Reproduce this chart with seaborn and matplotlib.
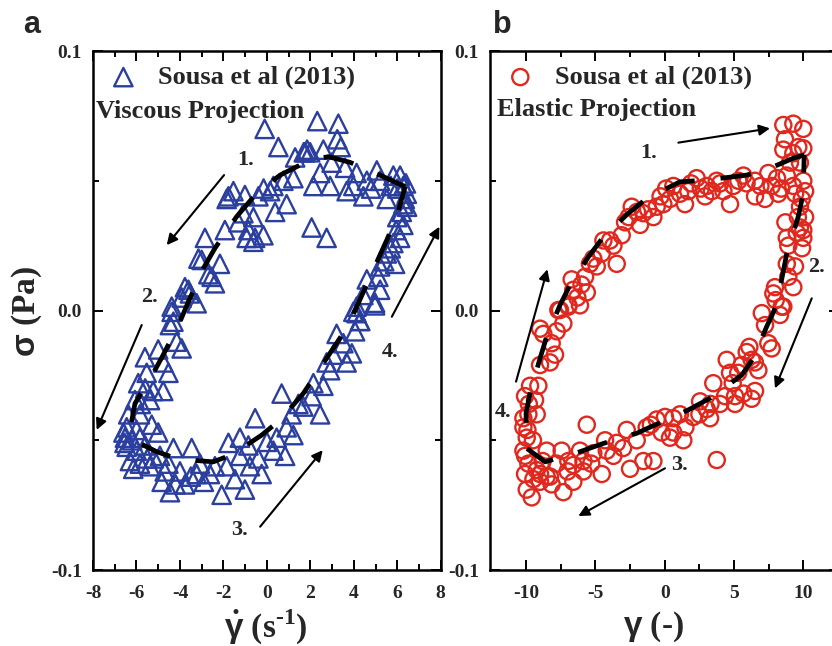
import matplotlib
matplotlib.use("Agg")
import matplotlib.pyplot as plt
import seaborn as sns
import pandas as pd

# ---------------- data: panel a (viscous projection) ----------------
shear_rate = [
    -0.10, 2.32, 3.29, 3.24, 3.40, 0.53, 1.30, 1.76, 1.99, 2.60, 2.98, 2.45, 2.14, 2.91, 1.22, 0.76,
    3.60, 4.13, 3.98, 4.44, 3.67, 5.06, 5.21, 5.82, 6.13, 6.28, 6.44, 6.28, 5.52, 6.21, 6.28, 6.13,
    5.82, 5.52, 5.90, 5.21, 5.13, 4.60, 5.21, 4.44, 4.98, 4.13, 3.98, 4.29,
    6.40, 6.35, 6.00, 5.70, 6.45, 4.80, 4.60, 1.70, 1.85, 6.00, 5.95, 5.70, 5.40,
    2.06, 2.75, 0.91, 0.38, 0.15, -0.39, -1.01, -1.54, -1.85, -1.08, -0.62, -1.93, -1.31, -0.93,
    -0.16, -0.62, -2.85, -3.00, -2.16, -2.69, -2.39, -3.77, -3.54, -3.23, -4.38, -4.30, -1.77,
    -3.15, -2.54, -3.61, -3.92, -4.38, -0.85, -0.54, -0.15, 0.30,
    -4.46, -4.15, -3.92, -5.61, -5.00, -4.77, -4.53, -5.53, -5.92, -5.23, -4.77, -6.07, -5.38,
    -6.38, -5.84, -5.30, -6.45, -6.53, -5.84, -6.45, -5.99, -6.30, -5.84, -6.15, -5.38, -4.92,
    -4.30, -3.46, -4.53, -4.00, -4.84, -4.46, -3.77, -3.23, -2.62, -3.08, -2.08, -1.01, -1.47,
    -1.85, -2.39, -1.77, -1.24, -0.85, -0.39, -0.24, -0.54, 0.00, 0.30, 0.45, 0.84, 0.91, 1.22,
    1.14, 0.68, 1.45, 1.68, 2.45, 2.06, 2.60, 2.14, 2.91, 2.75, 3.67, 3.06, 3.91, 3.21, 3.52,
    4.06, 4.29, 4.98, 4.13, -1.24, -0.78,
    -6.60, -6.55, -6.20, -5.60, -5.20, -4.70, -3.50, -2.90, -5.00, -5.50, -6.00, -5.80, -5.60, -4.20,
]
stress_a = [
    0.070, 0.073, 0.072, 0.066, 0.063, 0.063, 0.059, 0.061, 0.061, 0.062, 0.057, 0.053, 0.048, 0.048, 0.051, 0.050,
    0.055, 0.053, 0.048, 0.044, 0.046, 0.054, 0.050, 0.052, 0.052, 0.048, 0.045, 0.041, 0.043, 0.038, 0.033, 0.028,
    0.026, 0.022, 0.018, 0.017, 0.013, 0.012, 0.008, 0.006, 0.003, 0.0015, -0.0005, -0.004,
    0.049, 0.043, 0.047, 0.048, 0.040, 0.047, 0.050, 0.061, 0.062, 0.036, 0.031, 0.024, 0.019,
    0.032, 0.028, 0.041, 0.038, 0.046, 0.044, 0.0445, 0.046, 0.043, 0.0375, 0.036, 0.031, 0.034, 0.028,
    0.029, 0.0265, 0.028, 0.0195, 0.018, 0.014, 0.0105, 0.009, 0.0066, 0.0028, -0.0005, -0.0043, 0.044,
    0.020, 0.013, 0.008, 0.005, 0.0015, 0.031, 0.028, 0.047, 0.048,
    -0.0056, -0.012, -0.0146, -0.018, -0.015, -0.020, -0.024, -0.024, -0.028, -0.031, -0.031, -0.0345, -0.0345,
    -0.040, -0.040, -0.044, -0.045, -0.049, -0.049, -0.0525, -0.054, -0.058, -0.059, -0.061, -0.060, -0.056,
    -0.053, -0.053, -0.059, -0.062, -0.066, -0.070, -0.067, -0.063, -0.063, -0.059, -0.071, -0.069, -0.065,
    -0.060, -0.060, -0.051, -0.049, -0.052, -0.057, -0.063, -0.0415, -0.0506, -0.054, -0.049, -0.056, -0.045, -0.048,
    -0.040, -0.032, -0.036, -0.037, -0.040, -0.033, -0.029, -0.028, -0.023, -0.020, -0.020, -0.017, -0.0165, -0.009, -0.0126,
    -0.008, -0.004, 0.002, -0.001, -0.056, -0.060,
    -0.047, -0.051, -0.050, -0.052, -0.057, -0.062, -0.064, -0.066, -0.047, -0.057, -0.046, -0.036, -0.030, -0.067,
]
fit_a_x = [6.36, 5.36, 3.83, 2.83, 1.99, 1.37, 0.61, -0.47, -1.39, -2.39, -2.92, -3.61, -4.00, -4.77,
           -5.23, -6.07, -6.27, -5.84, -5.07, -4.07, -2.46, -1.54, -0.24, 0.61, 1.68, 2.29, 3.21, 3.75,
           4.21, 4.75, 5.52, 5.98, 6.36]
fit_a_y = [0.0477, 0.0516, 0.0571, 0.0593, 0.0580, 0.0554, 0.0522, 0.0452, 0.0362, 0.0240, 0.0163, 0.0034,
           -0.0043, -0.0171, -0.0242, -0.0358, -0.0448, -0.0512, -0.0544, -0.0573, -0.0583, -0.0553, -0.0480,
           -0.0422, -0.0319, -0.0242, -0.0126, -0.0056, 0.0028, 0.0130, 0.0272, 0.0362, 0.0477]

# ---------------- data: panel b (elastic projection) ----------------
strain = [
    8.55, 9.27, 9.99, 8.67, 9.63, 9.99, 8.55, 9.27, 9.03, 9.75, 8.80, 9.99, 9.27, 10.12, 8.19, 9.88, 9.75,
    10.12, 9.75, 9.52, 9.99, 8.80, 9.99, 8.91, 8.80, 9.39, 8.91, 9.27, 7.95, 7.83, 8.55, 8.31, 7.00, 8.43,
    7.23, 7.47, 7.71,
    5.91, 6.27, 4.47, 5.55, 4.71, 6.75, 3.50, 4.35, 5.07, 5.67, 6.51, 6.27, 5.07, 3.99, 2.55, 3.03, 3.27,
    2.06, 1.10, 0.62, 0.02, -0.58, -1.30, -0.22, 0.62, 1.49, 1.34, 0.38, -2.74, -2.02, -3.46, -4.30, -5.62,
    -6.11, -5.15, -4.18, -3.70, -4.54, -5.86, -6.59, -5.86, -6.59, -7.43, -8.51, -7.79, -6.95, -7.31, -8.15,
    -8.51, -8.99, -9.47, -10.07, -9.95, -9.59, -8.99, -8.27, -10.07, -9.83, -9.23, -10.19, -9.95, -10.19,
    -10.19, -9.83, -9.23, -10.07, -9.71, -9.11, -9.35, -8.99, -8.27, -7.91, -8.15, -8.75, -7.79, -7.31,
    -7.55, -6.95, -6.11, -8.99, 3.75, -0.82, -1.54, -2.50,
    -7.67, -6.95, -6.59, -5.62, -6.71, -5.74, -5.39, -5.15, -4.54, -4.42, -3.70, -3.46, -3.94, -3.10, -2.86,
    -2.38, -1.78, -1.54, -0.82, -0.58, -0.10, 0.38, 0.62, 1.10, 1.46, 1.70, 2.30, 2.91, 3.03, 3.75, 4.23,
    4.71, 4.95, 5.31, 5.67, 6.51, 6.51, 7.23, 7.47, 7.71, -6.30, -6.00, -4.90, -2.60, -2.00, -1.20, -0.30,
    0.10, 1.90, 2.60, 3.40, 4.00, 5.90, 6.90, 8.10, 8.40,
    -9.50, -9.80, -9.90, -8.80, -7.00, -5.30, -3.00, -1.00, 2.50, 3.30, 4.90, 5.30, 6.10, 6.50, 8.00, 9.60,
    9.90, 8.70, 9.40,
]
stress_b = [
    0.0715, 0.072, 0.070, 0.066, 0.063, 0.0625, 0.062, 0.0606, 0.057, 0.057, 0.052, 0.050, 0.048, 0.046, 0.045, 0.043, 0.040,
    0.036, 0.032, 0.030, 0.028, 0.028, 0.031, 0.025, 0.018, 0.017, 0.013, 0.009, 0.009, 0.0066, 0.0015, -0.0017, -0.001, 0.0015,
    -0.0056, -0.0126, -0.0146,
    -0.016, -0.019, -0.019, -0.021, -0.024, -0.023, -0.028, -0.033, -0.033, -0.032, -0.031, -0.034, -0.036, -0.036, -0.035, -0.038, -0.0415,
    -0.041, -0.040, -0.0415, -0.041, -0.042, -0.045, -0.047, -0.047, -0.045, -0.050, -0.049, -0.046, -0.050, -0.051, -0.050, -0.044,
    -0.054, -0.055, -0.054, -0.056, -0.063, -0.058, -0.0595, -0.062, -0.066, -0.054, -0.054, -0.059, -0.058, -0.070, -0.067,
    -0.064, -0.063, -0.065, -0.063, -0.069, -0.072, -0.066, -0.064, -0.056, -0.059, -0.0615, -0.054, -0.049, -0.045,
    -0.0415, -0.040, -0.040, -0.033, -0.029, -0.029, -0.0345, -0.021, -0.020, -0.017, -0.0126, -0.009, -0.008, -0.005,
    0.0002, 0.002, 0.002, -0.007, -0.0576, -0.058, -0.058, -0.061,
    0.0002, 0.0015, 0.008, 0.007, 0.012, 0.013, 0.018, 0.020, 0.022, 0.027, 0.025, 0.018, 0.027, 0.029, 0.034,
    0.040, 0.033, 0.0375, 0.036, 0.040, 0.041, 0.043, 0.048, 0.045, 0.041, 0.046, 0.051, 0.044, 0.048, 0.050, 0.046,
    0.041, 0.048, 0.050, 0.052, 0.050, 0.044, 0.043, 0.053, 0.048, 0.005, 0.010, 0.017, 0.036, 0.038, 0.039, 0.044,
    0.047, 0.049, 0.047, 0.046, 0.049, 0.049, 0.048, 0.051, 0.047,
    -0.050, -0.036, -0.046, -0.058, -0.062, -0.059, -0.053, -0.044, -0.040, -0.036, -0.028, -0.024, -0.014, -0.020, 0.004, 0.036,
    0.024, 0.034, 0.045,
]
fit_b_x = [10.05, 9.27, 7.83, 5.91, 3.03, 1.10, -1.30, -2.62, -4.42, -5.50, -6.83, -7.55, -8.51, -8.99, -9.71,
           -10.0, -9.95, -8.63, -6.11, -4.42, -2.02, -0.46, 1.70, 3.27, 5.55, 6.39, 7.35, 8.07, 8.80, 9.63, 9.99, 10.05]
fit_b_y = [0.0600, 0.0587, 0.0554, 0.0522, 0.0503, 0.0496, 0.0432, 0.0375, 0.0284, 0.0207, 0.0098, 0.0021, -0.0101,
           -0.0184, -0.0319, -0.0396, -0.0531, -0.0583, -0.0544, -0.0512, -0.0473, -0.0435, -0.0383, -0.0338, -0.0249,
           -0.0184, -0.0062, 0.0021, 0.0220, 0.0362, 0.0452, 0.0600]

legend_label = "Sousa et al (2013)"
arrow_labels = ["1.", "2.", "3.", "4."]

# ---------------- style ----------------
sns.set_style("ticks")
plt.rcParams["font.family"] = ["Liberation Serif", "DejaVu Serif"]
plt.rcParams["font.weight"] = "bold"
plt.rcParams["axes.unicode_minus"] = False
plt.rcParams["mathtext.fontset"] = "custom"
plt.rcParams["mathtext.rm"] = "Liberation Serif:bold"
plt.rcParams["mathtext.bf"] = "Liberation Serif:bold"
plt.rcParams["mathtext.it"] = "Liberation Sans:bold"

BLUE = "#2b3f9e"
RED = "#e0291e"

fig = plt.figure(figsize=(8.32, 6.46), dpi=100)
axa = fig.add_axes([0.1118, 0.1176, 0.4179, 0.8034])
axb = fig.add_axes([0.5889, 0.1176, 0.4201, 0.8034])


def style(ax, xlim, xmaj, xmin):
    ax.set_xlim(*xlim)
    ax.set_ylim(-0.1, 0.1)
    ax.set_xticks(xmaj)
    ax.set_xticks(xmin, minor=True)
    ax.set_yticks([-0.1, 0.0, 0.1])
    ax.set_yticklabels(["-0.1", "0.0", "0.1"])
    ax.set_yticks([-0.05, 0.05], minor=True)
    ax.tick_params(which="both", direction="in", top=True, right=True, width=1.4, color="black")
    ax.tick_params(which="major", length=7, labelsize=14)
    ax.tick_params(axis="y", which="major", pad=8)
    ax.tick_params(axis="x", which="major", pad=11)
    ax.tick_params(which="minor", length=4)
    for s in ax.spines.values():
        s.set_linewidth(1.8)
        s.set_color("black")
    ax.set_xlabel("")
    ax.set_ylabel("")


dfa = pd.DataFrame({"x": shear_rate, "y": stress_a})
fa = pd.DataFrame({"x": fit_a_x, "y": fit_a_y})
sns.scatterplot(data=dfa, x="x", y="y", marker="^", s=175, facecolor="none", edgecolor=BLUE,
                linewidth=1.7, label=legend_label, ax=axa, zorder=2)
sns.lineplot(data=fa, x="x", y="y", sort=False, estimator=None, color="black", lw=3.4, ax=axa, zorder=3)
axa.lines[-1].set_dashes([6.5, 5.5])
style(axa, (-8, 8), list(range(-8, 9, 2)), list(range(-7, 8, 2)))

dfb = pd.DataFrame({"x": strain, "y": stress_b})
fb = pd.DataFrame({"x": fit_b_x, "y": fit_b_y})
sns.scatterplot(data=dfb, x="x", y="y", marker="o", s=135, facecolor="none", edgecolor=RED,
                linewidth=1.7, label=legend_label, ax=axb, zorder=2)
sns.lineplot(data=fb, x="x", y="y", sort=False, estimator=None, color="black", lw=3.4, ax=axb, zorder=3)
axb.lines[-1].set_dashes([6.5, 5.5])
style(axb, (-12.6, 12.6), [-10, -5, 0, 5, 10], [-7.5, -2.5, 2.5, 7.5])

for ax in (axa, axb):
    ax.legend(loc="upper left", bbox_to_anchor=(0.0, 1.0), frameon=False, fontsize=19,
              handlelength=1.2, handletextpad=0.7, borderaxespad=0.2, borderpad=0.35)

axa.text(0.01, 0.884, "Viscous Projection", transform=axa.transAxes, fontsize=19, ha="left", va="center")
axb.text(0.02, 0.888, "Elastic Projection", transform=axb.transAxes, fontsize=19, ha="left", va="center")


def arrow(ax, start, end, label, lpos):
    ax.annotate("", xy=end, xytext=start,
                arrowprops=dict(arrowstyle="-|>", color="black", lw=1.5, mutation_scale=16,
                                shrinkA=0, shrinkB=0))
    ax.text(lpos[0], lpos[1], label, fontsize=16, ha="center", va="center")


arrow(axa, (-1.97, 0.0522), (-4.61, 0.0252), arrow_labels[0], (-1.0, 0.058))
arrow(axa, (-5.76, -0.0056), (-7.83, -0.046), arrow_labels[1], (-5.38, 0.0053))
arrow(axa, (-0.31, -0.0833), (2.57, -0.0538), arrow_labels[2], (-1.24, -0.0846))
arrow(axa, (5.75, -0.0024), (7.94, 0.0323), arrow_labels[3], (5.67, -0.0159))

arrow(axb, (0.98, 0.0647), (7.59, 0.0702), arrow_labels[0], (-1.18, 0.0606))
arrow(axb, (10.6, 0.0047), (7.95, -0.030), arrow_labels[1], (10.96, 0.0169))
arrow(axb, (0.02, -0.0608), (-6.23, -0.0792), arrow_labels[2], (1.10, -0.0595))
arrow(axb, (-10.72, -0.0274), (-8.46, 0.0159), arrow_labels[3], (-11.64, -0.039))

# axis labels and panel letters
fig.text(27 / 832, 1 - 311 / 646, r"$\sigma$ (Pa)", rotation=90, fontsize=24, ha="center", va="center")
fig.text(266 / 832, 1 - 627 / 646, r"$\dot{\gamma}$ (s$^{\text{-1}}$)", fontsize=24, ha="center", va="center")
fig.text(653 / 832, 1 - 627 / 646, r"$\gamma$ (-)", fontsize=24, ha="center", va="center")
fig.text(32 / 832, 1 - 25 / 646, "a", fontsize=22, family="Liberation Sans", weight="bold", ha="center", va="center")
fig.text(502 / 832, 1 - 25 / 646, "b", fontsize=22, family="Liberation Sans", weight="bold", ha="center", va="center")

fig.savefig("out.png", dpi=100)
